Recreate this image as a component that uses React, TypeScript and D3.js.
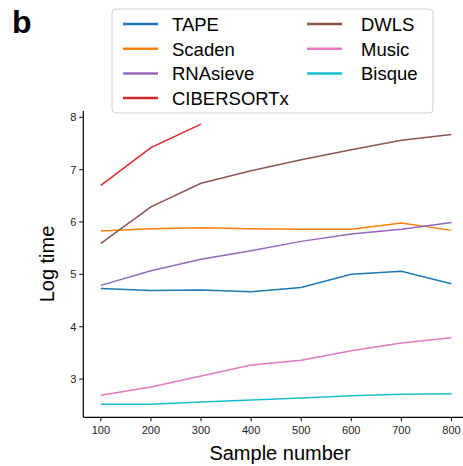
import React from "react";
import * as d3 from "d3";

const sampleNumbers = [100, 200, 300, 400, 500, 600, 700, 800];
const tapeValues = [4.73, 4.69, 4.70, 4.67, 4.75, 5.0, 5.06, 4.82];
const scadenValues = [5.83, 5.87, 5.89, 5.87, 5.86, 5.86, 5.98, 5.84];
const rnasieveValues = [4.79, 5.07, 5.29, 5.45, 5.63, 5.77, 5.86, 5.99];
const cibersortxValues = [6.70, 7.42, 7.87];
const dwlsValues = [5.59, 6.29, 6.74, 6.98, 7.19, 7.38, 7.56, 7.67];
const musicValues = [2.69, 2.85, 3.06, 3.27, 3.36, 3.54, 3.69, 3.79];
const bisqueValues = [2.52, 2.52, 2.56, 2.60, 2.64, 2.68, 2.71, 2.72];

const xTicks = [100, 200, 300, 400, 500, 600, 700, 800];
const yTicks = [3, 4, 5, 6, 7, 8];

const seriesNames = ["TAPE", "Scaden", "RNAsieve", "CIBERSORTx", "DWLS", "Music", "Bisque"];
const seriesColors = ["#1f77b4", "#ff7f0e", "#9467bd", "#d62728", "#8c564b", "#e377c2", "#17becf"];
const seriesValues = [tapeValues, scadenValues, rnasieveValues, cibersortxValues, dwlsValues, musicValues, bisqueValues];

const FONT = "'Liberation Sans', Arial, Helvetica, sans-serif";

export default function App() {
  const width = 463;
  const height = 466;
  const x = d3.scaleLinear().domain([65, 835]).range([83.3, 469]);
  const y = d3.scaleLinear().domain([2.27, 8.12]).range([417.3, 111]);
  const line = d3
    .line<[number, number]>()
    .x((d) => x(d[0]))
    .y((d) => y(d[1]));

  const legendCols = [
    { lineX: 123, textX: 172 },
    { lineX: 307, textX: 361 },
  ];
  const legendRowY = [24, 48.7, 73.4, 98];

  return (
    <svg
      width={width}
      height={height}
      style={{ position: "absolute", left: 0, top: 0, background: "#fff" }}
      fontFamily={FONT}
    >
      <rect x={0} y={0} width={width} height={height} fill="#fff" />
      {/* series */}
      {seriesValues.map((vals, i) => (
        <path
          key={seriesNames[i]}
          d={line(vals.map((v, j) => [sampleNumbers[j], v] as [number, number])) || ""}
          fill="none"
          stroke={seriesColors[i]}
          strokeWidth={1.5}
        />
      ))}
      {/* axes */}
      <line x1={x(65)} x2={x(835)} y1={y(2.27)} y2={y(2.27)} stroke="#000" strokeWidth={1.2} />
      <line x1={x(65)} x2={x(65)} y1={y(2.27)} y2={y(8.12)} stroke="#000" strokeWidth={1.2} />
      {xTicks.map((t) => (
        <g key={"x" + t}>
          <line x1={x(t)} x2={x(t)} y1={y(2.27)} y2={y(2.27) + 4} stroke="#000" strokeWidth={1} />
          <text x={x(t)} y={y(2.27) + 17} fontSize={11} textAnchor="middle" fill="#222">
            {t}
          </text>
        </g>
      ))}
      {yTicks.map((t) => (
        <g key={"y" + t}>
          <line x1={x(65) - 4} x2={x(65)} y1={y(t)} y2={y(t)} stroke="#000" strokeWidth={1} />
          <text x={x(65) - 7} y={y(t) + 4} fontSize={11} textAnchor="end" fill="#222">
            {t}
          </text>
        </g>
      ))}
      <text x={280} y={460} fontSize={20} textAnchor="middle" fill="#000">
        Sample number
      </text>
      <text
        transform={`translate(54, 264) rotate(-90)`}
        fontSize={20}
        textAnchor="middle"
        fill="#000"
      >
        Log time
      </text>
      <text x={12} y={33} fontSize={32} fontWeight="bold" fill="#000">
        b
      </text>
      {/* legend */}
      <rect
        x={112}
        y={9}
        width={321}
        height={104}
        rx={4}
        fill="#fff"
        fillOpacity={0.8}
        stroke="#d0d0d0"
        strokeWidth={1}
      />
      {seriesNames.map((name, i) => {
        const col = i < 4 ? 0 : 1;
        const row = i < 4 ? i : i - 4;
        const c = legendCols[col];
        const yy = legendRowY[row];
        return (
          <g key={"lg" + name}>
            <line x1={c.lineX} x2={c.lineX + 35} y1={yy} y2={yy} stroke={seriesColors[i]} strokeWidth={2.5} />
            <text x={c.textX} y={yy + 7} fontSize={18.5} fill="#000">
              {name}
            </text>
          </g>
        );
      })}
    </svg>
  );
}
